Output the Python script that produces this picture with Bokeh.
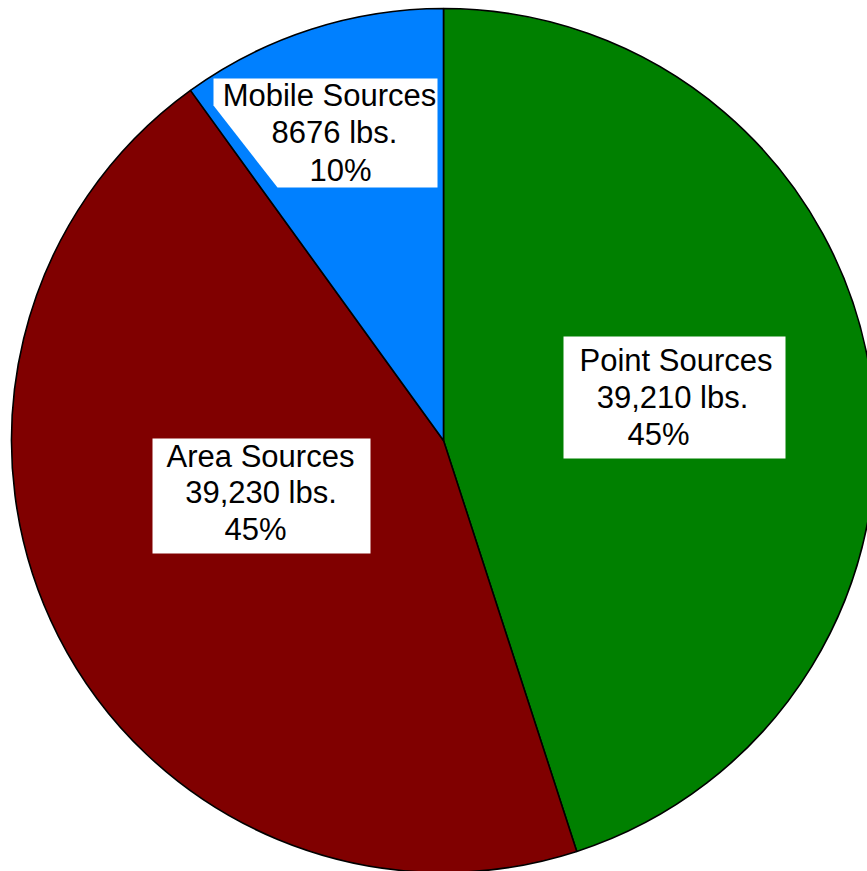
import math
from bokeh.plotting import figure
from bokeh.models import Range1d, ColumnDataSource
from bokeh.core.properties import value
from bokeh.embed import file_html
from bokeh.resources import INLINE

# ---- data ----
categories = ["Point Sources", "Area Sources", "Mobile Sources"]
pounds = [39210, 39230, 8676]
pound_labels = ["39,210 lbs.", "39,230 lbs.", "8676 lbs."]
colors = ["#008000", "#800000", "#0080FF"]

total = sum(pounds)
fractions = [v / total for v in pounds]
percent_labels = [f"{round(f * 100)}%" for f in fractions]

# clockwise from 12 o'clock
starts, ends = [], []
cum = 0.0
for f in fractions:
    starts.append(math.pi / 2 - cum * 2 * math.pi)
    cum += f
    ends.append(math.pi / 2 - cum * 2 * math.pi)

# ---- layout (image-pixel coordinates, y negated) ----
W, H = 867, 871
p = figure(width=W, height=H, output_backend="svg", toolbar_location=None,
           x_range=Range1d(0, W), y_range=Range1d(-H, 0),
           x_axis_location=None, y_axis_location=None, min_border=0,
           outline_line_color=None, background_fill_color="white")
p.grid.visible = False

cx, cy, r = 443, -440, 432
src = ColumnDataSource(dict(start=starts, end=ends, color=colors, cat=categories))
p.wedge(x=cx, y=cy, radius=r, start_angle="start", end_angle="end",
        direction="clock", fill_color="color", line_color="black",
        line_width=1.6, source=src)

# label boxes
p.quad(left=[563, 152], right=[785, 370], top=[-336, -438], bottom=[-458, -553],
       fill_color="white", line_color=None)
p.patch(x=[213, 437, 437, 277, 213], y=[-78, -78, -187, -187, -105],
        fill_color="white", line_color=None)

# label texts (one row per line), vertical centres of each line
label_pos = {
    "Point Sources": [(675.5, 360), (672, 397), (658, 433.5)],
    "Area Sources": [(260, 455.5), (260.5, 492), (255, 528.5)],
    "Mobile Sources": [(329, 95), (334, 131.5), (340, 170)],
}
tx, ty, tt = [], [], []
for i, c in enumerate(categories):
    lines = [c, pound_labels[i], percent_labels[i]]
    for (x, y), t in zip(label_pos[c], lines):
        tx.append(x)
        ty.append(-y)
        tt.append(t)

p.text(x=tx, y=ty, text=tt, text_align="center", text_baseline="middle",
       text_font=value("Liberation Sans"), text_font_size="31px",
       text_color="black")

open("out.html", "w").write(file_html(p, INLINE))
